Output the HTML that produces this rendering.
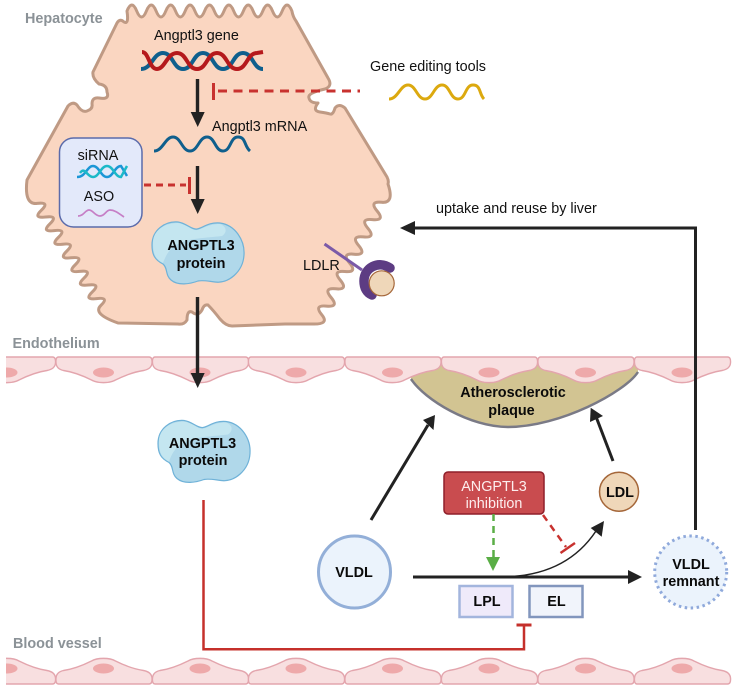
<!DOCTYPE html>
<html>
<head>
<meta charset="utf-8">
<style>
html,body{margin:0;padding:0;background:#fff}
svg{display:block}
text{font-family:"Liberation Sans",sans-serif;font-size:14.4px;fill:#111}
.b{font-weight:bold;fill:#0a0a0a}
.g{font-weight:bold;fill:#8b9297}
.m{text-anchor:middle}
</style>
</head>
<body>
<svg width="736" height="687" viewBox="0 0 736 687" xmlns="http://www.w3.org/2000/svg">
<defs>
<clipPath id="clip"><rect x="6" y="340" width="730" height="347"/></clipPath>
<g id="cell">
<path d="M3 0H93.500Q97 0 96.500 6Q96 12 88 13.500C78 15 68 19 60 23C54 26.500 42 26.500 36 23C28 19 18 15 8 13.500Q1 12 0.500 6Q0 0 3 0Z" fill="#f8dfe0" stroke="#e3a5ad" stroke-width="1.400"/>
<ellipse cx="48" cy="15.500" rx="10.500" ry="5" fill="#eea9aa"/>
</g>
<g id="blob">
<path d="M152 245C152 230 165 221 178 222C186 223 192 230 197 229C203 228 208 222 220 223C235 225 245 240 244 255C243 272 228 284 215 282C207 281 203 280 198 281C190 284 178 286 171 280C165 275 168 268 163 264C155 260 152 255 152 245Z" fill="#b0d8ea" stroke="#6fb2d8" stroke-width="1.200"/>
<path d="M153 243C153 230 165 223 178 223C186 224 192 231 197 230C203 229 208 224 220 224C226 226 228 232 222 236C205 238 190 238 178 244C168 249 165 258 163 263C155 259 153 253 153 243Z" fill="#c4e6f0"/>
</g>
</defs>

<!-- hepatocyte -->
<path d="M93 72L117 23Q120 18 124 22Q129 25 127 11
q4.850 -12 9.700 0 t9.700 0 t9.700 0 t9.700 0 t9.700 0 t9.700 0 t9.700 0 t9.700 0 t9.700 0 t9.700 0 t9.700 0 t9.700 0 t9.700 0 t9.700 0 t9.700 0 t9.700 0 t9.700 0
Q293 17 296 21L328 78Q333 86 325 89Q307 93 309 98Q310 103 318 103Q312 111 320 112Q327 113 330 114Q333 115 335 108Q339 103 345 108L387 177Q389 181 388 184
Q394.600 203.600 381.700 202.300Q368.800 201 377.100 211Q385.400 220.900 372.500 219.600Q359.600 218.300 367.900 228.300Q376.200 238.200 363.300 236.900Q350.400 235.600 358.700 245.600Q367 255.500 354.100 254.200Q341.200 252.900 349.500 262.900Q357.800 272.800 344.900 271.500Q332 270.200 340.300 280.100Q348.600 290.100 335.700 288.800Q322.800 287.500 331.100 297.500Q339.400 307.400 326.500 306.100Q313.600 304.800 321.800 314.800Q330 324.700 312 324
L285 324L232 326Q226 326 220 319Q213 310 208 305Q204 304 202 310Q198 317 192 312Q187 310 187 320Q184 325 178 324L118 323
Q92 313.800 100.900 305.400Q109.750 297 96.600 298.600Q83.500 300.200 92.400 291.800Q101.250 283.400 88.100 285Q75 286.600 83.900 278.200Q92.750 269.800 79.600 271.400Q66.500 273 75.400 264.600Q84.250 256.200 71.100 257.800Q58 259.400 66.900 251Q75.750 242.600 62.600 244.200Q49.500 245.800 58.400 237.400Q67.250 229 54.100 230.600Q41 232.200 49.900 223.800Q58.750 215.400 45.600 217Q32.500 218.600 41.400 210.200Q50.250 201.800 37.100 203.400Q24 205 27 180
L68 106Q73 101 77 105Q82 113 87 111Q93 109 92 104Q92 97 99 98Q110 100 107 92Q107 85 99 84Q92 78 93 72Z"
 fill="#fad6c1" stroke="#bf9a84" stroke-width="3" stroke-linejoin="round"/>

<!-- plaque -->
<path d="M411 365H638V372C625 392 560 427 508 427C470 427 425 400 411 379Z" fill="#d2c492"/>
<path d="M411 379C425 400 470 427 508 427C560 427 625 392 638 372" fill="none" stroke="#7a7a86" stroke-width="2.500"/>

<!-- endothelium -->
<g clip-path="url(#clip)">
<use href="#cell" x="-41" y="357"/>
<use href="#cell" x="55.500" y="357"/>
<use href="#cell" x="152" y="357"/>
<use href="#cell" x="248" y="357"/>
<use href="#cell" x="344.500" y="357"/>
<use href="#cell" x="441" y="357"/>
<use href="#cell" x="537.500" y="357"/>
<use href="#cell" x="634" y="357"/>
<g transform="translate(0,684) scale(1,-1)">
<use href="#cell" x="-41"/>
<use href="#cell" x="55.500"/>
<use href="#cell" x="152"/>
<use href="#cell" x="248"/>
<use href="#cell" x="344.500"/>
<use href="#cell" x="441"/>
<use href="#cell" x="537.500"/>
<use href="#cell" x="634"/>
</g>
</g>

<!-- region labels -->
<text class="g" x="25" y="23">Hepatocyte</text>
<text class="g" x="12.500" y="348">Endothelium</text>
<text class="g" x="13" y="648">Blood vessel</text>

<!-- gene -->
<text x="154" y="40">Angptl3 gene</text>
<path d="M141 69C152 69 153 53 163 53S173 69 183 69S193 53 203 53S213 69 223 69S233 53 243 53S253 69 263 69" fill="none" stroke="#0f5f8d" stroke-width="4"/>
<path d="M142 52C149 52 149 69 157 69S167 53 177 53S187 69 197 69S207 53 217 53S227 69 237 69S247 53 257 53L263 52" fill="none" stroke="#b5191c" stroke-width="4"/>

<!-- mRNA -->
<text x="212" y="131">Angptl3 mRNA</text>
<path d="M154 151C163 151 165 137 173 137S182 151 190 151S199 137 207 137S215 151 223 151S230 137 238 137S244 146 250 151" fill="none" stroke="#0f5f8d" stroke-width="3"/>

<!-- gene editing -->
<text x="370" y="71">Gene editing tools</text>
<path d="M389 99C398 99 400 85 408 85S417 99 425 99S434 85 442 85S450 99 458 99S465 85 473 85S479 94 484 99" fill="none" stroke="#dca90f" stroke-width="3"/>

<!-- inhibition dashes -->
<path d="M218 91H360" fill="none" stroke="#c8322f" stroke-width="3" stroke-dasharray="9 6.500"/>
<path d="M213.500 83V100" stroke="#c8322f" stroke-width="3" fill="none"/>
<path d="M144 185H186" fill="none" stroke="#c8322f" stroke-width="3" stroke-dasharray="7 5"/>
<path d="M189.500 177V194" stroke="#c8322f" stroke-width="3" fill="none"/>

<!-- siRNA box -->
<rect x="59.500" y="138" width="82.500" height="89" rx="14" fill="#e3e9fa" stroke="#5b6bab" stroke-width="1.500"/>
<text class="m" x="98" y="160">siRNA</text>
<path d="M77 177C86 177 87 166 93 166S101 177 107 177S115 166 121 166L127 176" fill="none" stroke="#1b96d6" stroke-width="2.500"/>
<path d="M80 173C85 166 87 177 93 177S101 166 107 166S115 177 121 177L127 166" fill="none" stroke="#1cb9c8" stroke-width="2.500"/>
<text class="m" x="99" y="201">ASO</text>
<path d="M78 216C84 216 85 210 89 210S95 216 100 216S106 210 110 210S117 212 124 217" fill="none" stroke="#c67fc6" stroke-width="1.700"/>

<!-- vertical arrows -->
<g fill="#222" stroke="none">
<rect x="195.800" y="79" width="3.400" height="36"/>
<path d="M190.700 112H204.700L197.700 127Z"/>
<rect x="195.800" y="166" width="3.400" height="36"/>
<path d="M190.700 199H204.700L197.700 214Z"/>
<rect x="195.800" y="297" width="3.400" height="78"/>
<path d="M190.700 373H204.700L197.700 388Z"/>
</g>

<!-- proteins -->
<use href="#blob"/>
<use href="#blob" x="6" y="198.500"/>
<text class="b m" x="201" y="250">ANGPTL3</text>
<text class="b m" x="201" y="268">protein</text>
<text class="b m" x="202.500" y="448">ANGPTL3</text>
<text class="b m" x="203" y="465">protein</text>

<!-- LDLR -->
<text x="303" y="270">LDLR</text>
<path d="M324.500 244L362 270" stroke="#7b5aa8" stroke-width="3" fill="none"/>
<path d="M390 268C378 260 364 268 364 281C364 288 367 293 372 295" stroke="#5d3c83" stroke-width="9.500" fill="none" stroke-linecap="round"/>
<circle cx="381.700" cy="283.300" r="12.500" fill="#efd7b9" stroke="#a5673a" stroke-width="1.200"/>

<!-- uptake -->
<text x="436" y="213">uptake and reuse by liver</text>
<path d="M695.500 530V228H412" fill="none" stroke="#222" stroke-width="3"/>
<path d="M415 221V235L400 228Z" fill="#222"/>

<!-- plaque text -->
<text class="b m" x="513" y="397">Atherosclerotic</text>
<text class="b m" x="511.500" y="415">plaque</text>

<!-- arrows to plaque -->
<path d="M371 520L428 425" fill="none" stroke="#222" stroke-width="3"/>
<path d="M423 420L435 415L433.500 430Z" fill="#222"/>
<path d="M613 461L595 414" fill="none" stroke="#222" stroke-width="3"/>
<path d="M590 422L590.700 407.700L603 416Z" fill="#222"/>

<!-- inhibition box -->
<rect x="444" y="472" width="100" height="42" rx="4" fill="#c94c4f" stroke="#8f1f2a" stroke-width="1.500"/>
<text class="m" x="494" y="491" style="fill:#fdeeee">ANGPTL3</text>
<text class="m" x="494" y="508" style="fill:#fdeeee">inhibition</text>

<!-- green and red dashes -->
<path d="M493.500 514V558" fill="none" stroke="#5aae46" stroke-width="2.500" stroke-dasharray="7 5"/>
<path d="M486 557H500L493 571Z" fill="#5aae46"/>
<path d="M543 515L566 547" fill="none" stroke="#c8322f" stroke-width="2.500" stroke-dasharray="7 5.500"/>
<path d="M560.500 553L575 543" fill="none" stroke="#c8322f" stroke-width="2.500"/>

<!-- LDL -->
<circle cx="619" cy="491.700" r="19.500" fill="#efd7b9" stroke="#a5673a" stroke-width="1.500"/>
<text class="b m" x="620" y="497">LDL</text>

<!-- main path -->
<path d="M413 577H630" fill="none" stroke="#222" stroke-width="3"/>
<path d="M628 570V584L642 577Z" fill="#222"/>
<path d="M512 576.500C550 574 578 558 596 531" fill="none" stroke="#222" stroke-width="1.500"/>
<path d="M590.700 528L604 521L601.700 536.700Z" fill="#222"/>

<!-- VLDL -->
<circle cx="354.500" cy="572" r="36" fill="#ebf3fc" stroke="#93afd8" stroke-width="3"/>
<text class="b m" x="354" y="577">VLDL</text>
<circle cx="690.700" cy="572" r="36" fill="#ebf3fc" stroke="#8fa9db" stroke-width="3" stroke-dasharray="2.500 3.500"/>
<text class="b m" x="691" y="569">VLDL</text>
<text class="b m" x="691" y="586">remnant</text>

<!-- LPL, EL -->
<rect x="459.500" y="586" width="53" height="31" fill="#efeafa" stroke="#a3b5dd" stroke-width="2.500"/>
<text class="b m" x="487" y="606">LPL</text>
<rect x="529.500" y="586" width="53" height="31" fill="#f1f4fb" stroke="#8296bd" stroke-width="2.500"/>
<text class="b m" x="556.500" y="606">EL</text>

<!-- red inhibition -->
<path d="M203.500 500V649.300H524V625" fill="none" stroke="#c5302b" stroke-width="2.500"/>
<path d="M516.500 625H531.500" fill="none" stroke="#c5302b" stroke-width="3"/>
</svg>
</body>
</html>
